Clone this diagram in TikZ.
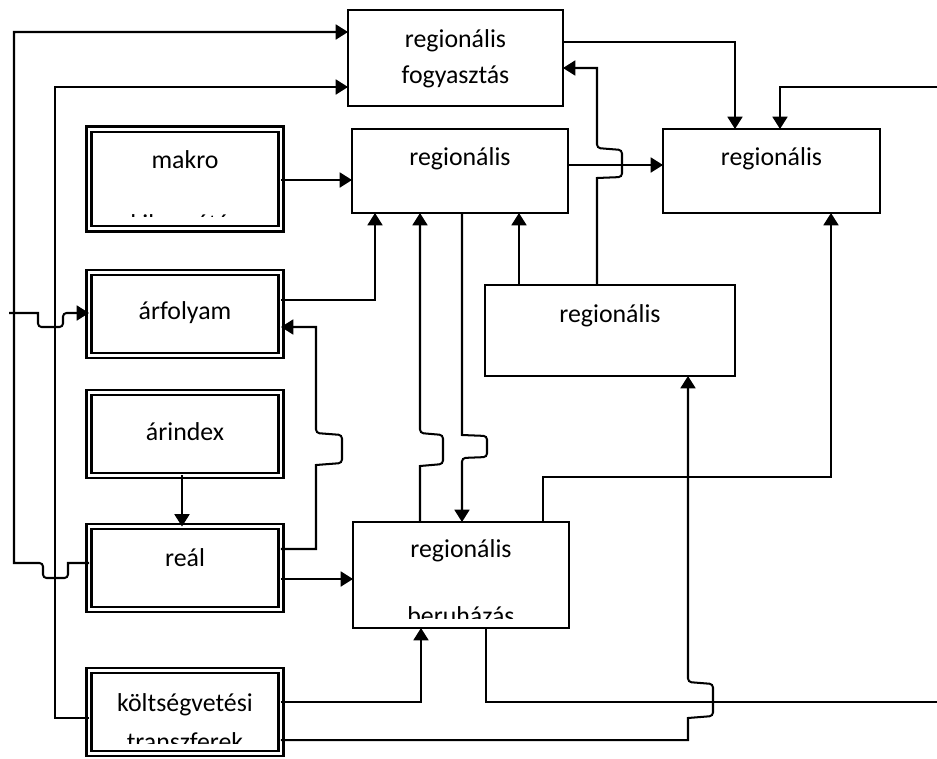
\documentclass[tikz,border=0pt]{standalone}
\usepackage{fontspec}
\setmainfont{Carlito}
\usepackage{tikz}
\usetikzlibrary{arrows.meta}
\tikzstyle{regbox} = [rectangle, draw=black, line width=0.85pt, outer sep=0pt, minimum width=4.32cm, minimum height=1.68cm]
\tikzstyle{inbox} = [rectangle, draw=black, double, double distance=1.6pt, line width=1.4pt, outer sep=0pt, minimum width=3.84cm, minimum height=1.66cm]
\tikzstyle{txt} = [anchor=base, inner sep=0pt, font=\fontsize{14.7}{17}\selectfont]
\tikzstyle{arrow} = [line width=1.15pt,->,>={Triangle[length=7pt,width=8.5pt]}]
\tikzstyle{conn} = [line width=1.15pt]
\tikzstyle{hop} = [rounded corners=2pt]

\begin{document}
\begin{tikzpicture}[x=0.02cm,y=-0.02cm]
\useasboundingbox (0,0) rectangle (937,758);
\node (fogy) [regbox, minimum width=4.3cm, minimum height=1.92cm] at (455.5,58) {};
\node (regtop) [regbox] at (460,171) {};
\node (regright) [regbox, minimum width=4.34cm] at (771.5,171) {};
\node (regmid) [regbox, minimum width=5cm, minimum height=1.82cm] at (610,330.5) {};
\node (beruh) [regbox, minimum height=2.12cm] at (461,575) {};
\node (makro) [inbox, minimum height=1.99cm] at (185,179) {};
\node (arf) [inbox] at (185,314) {};
\node (arindex) [inbox] at (185,434) {};
\node (real) [inbox] at (185,568) {};
\node (kolts) [inbox] at (185,712) {};

\node (fogy1) [txt] at (455.5,47) {regionális};
\node (fogy2) [txt] at (455.5,83) {fogyasztás};
\node (regtop1) [txt] at (460,165) {regionális};
\node (regright1) [txt] at (771.5,165) {regionális};
\node (regmid1) [txt] at (610,322) {regionális};
\node (beruh1) [txt] at (461,557) {regionális};
\node (makro1) [txt] at (185,168) {makro};
\node (arf1) [txt] at (185,319) {árfolyam};
\node (arindex1) [txt] at (185,440) {árindex};
\node (real1) [txt] at (185,566) {reál};
\node (kolts1) [txt] at (185,711) {költségvetési};
\begin{scope}
\clip (93,133) rectangle (277,216);
\node (makro2) [txt] at (185,232) {kibocsátás};
\end{scope}
\begin{scope}
\clip (355,524) rectangle (567,618);
\node (beruh2) [txt] at (461,624) {beruházás};
\end{scope}
\begin{scope}
\clip (93,676) rectangle (277,743);
\node (kolts2) [txt] at (185,750) {transzferek};
\end{scope}

\coordinate (arfin) at (9,313);
\coordinate (regin) at (937,87);
\coordinate (beruhout) at (937,702);
\draw[arrow] (real.west |- 0,563) -- (68,563) [hop] -- (68,578) -- (43,578) -- (43,563) [sharp corners] -- (14,563) -- (14,32) -- (fogy.west |- 0,32);
\draw[arrow] (kolts.west |- 0,718) -- (55,718) -- (55,87) -- (fogy.west |- 0,87);
\draw[arrow] (arfin) -- (38,313) [hop] -- (38,327) -- (63,327) -- (63,313) [sharp corners] -- (arf.west |- 0,313);
\draw[arrow] (makro.east |- 0,180) -- (regtop.west |- 0,180);
\draw[arrow] (arf.east |- 0,300) -| (375,0 |- regtop.south);
\draw[arrow] (real.east |- 0,549) -- (316,549) -- (316,465) [hop] -- (342,463) -- (342,435) -- (316,433) [sharp corners] -- (316,327) -- (arf.east |- 0,327);
\draw[arrow] (regtop.east |- 0,165) -- (regright.west |- 0,165);
\draw[arrow] (fogy.east |- 0,42) -| (735,0 |- regright.north);
\draw[arrow] (regin) -| (780,0 |- regright.north);
\draw[arrow] (regmid.north -| 519,0) -- (regtop.south -| 519,0);
\draw[arrow] (regmid.north -| 597,0) -- (597,178) [hop] -- (622,177) -- (622,150) -- (597,148) [sharp corners] -- (597,68) -- (fogy.east |- 0,68);
\draw[arrow] (beruh.north -| 543,0) |- (831,477) -- (regright.south -| 831,0);
\draw[arrow] (kolts.east |- 0,740) -- (688,740) -- (688,718) [hop] -- (713,716) -- (713,684) -- (688,682) [sharp corners] -- (regmid.south -| 688,0);
\draw[conn] (beruh.south -| 486,0) |- (beruhout);
\draw[arrow] (kolts.east |- 0,702) -| (beruh.south -| 421,0);
\draw[arrow] (real.east |- 0,579) -- (beruh.west |- 0,579);
\draw[arrow] (arindex.south -| 182,0) -- (real.north -| 182,0);
\draw[arrow] (beruh.north -| 420,0) -- (420,466) [hop] -- (443,464) -- (443,435) -- (420,433) [sharp corners] -- (regtop.south -| 420,0);
\draw[arrow] (regtop.south -| 462,0) -- (462,435) [hop] -- (487,436) -- (487,457) -- (462,458) [sharp corners] -- (beruh.north -| 462,0);
\end{tikzpicture}
\end{document}
